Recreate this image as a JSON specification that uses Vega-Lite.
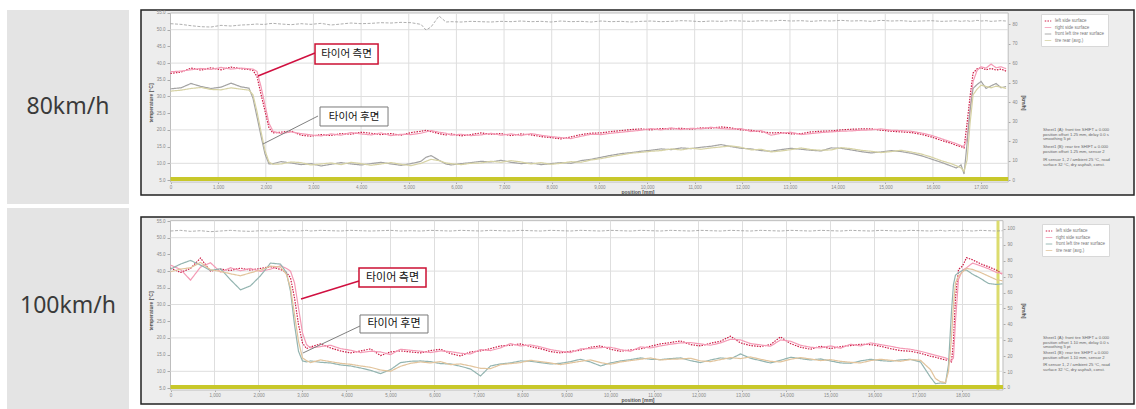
{
  "$schema": "https://vega.github.io/schema/vega-lite/v6.json",
  "background": "white",
  "padding": {"left": 7, "top": 9, "right": 3, "bottom": 0},
  "spacing": 11,
  "config": {
    "font": "Liberation Sans",
    "view": {"stroke": null},
    "axis": {"labelOverlap": false, "labelFlush": false, "domain": false, "grid": false, "tickColor": "#aaaaaa", "labelFontSize": 4.5, "labelColor": "#888888", "titleFontSize": 5, "titleFontWeight": "bold", "titleColor": "#555555"}
  },
  "datasets": {
    "p1": [
      {"x":0,"a":36.9,"b":37.4,"c":32.3,"d":31.6,"t":51.8},
      {"x":220,"a":37.3,"b":37.6,"c":32.6,"d":31.9,"t":51.6},
      {"x":430,"a":38.5,"b":38.0,"c":33.9,"d":32.4,"t":51.2},
      {"x":640,"a":37.9,"b":38.4,"c":33.0,"d":32.7,"t":50.9},
      {"x":850,"a":38.6,"b":38.1,"c":32.4,"d":32.1,"t":50.8},
      {"x":1060,"a":38.0,"b":38.7,"c":32.8,"d":32.0,"t":51.3},
      {"x":1270,"a":38.8,"b":38.2,"c":34.0,"d":32.6,"t":51.1},
      {"x":1480,"a":38.3,"b":38.5,"c":32.9,"d":32.2,"t":51.4},
      {"x":1647,"a":38.1,"b":38.3,"c":32.5,"d":31.9,"t":51.5},
      {"x":1731,"a":37.8,"b":38.2,"c":29.5,"d":30.5,"t":51.6},
      {"x":1815,"a":36.0,"b":37.5,"c":23.9,"d":25.5,"t":51.7},
      {"x":1899,"a":30.7,"b":33.0,"c":18.2,"d":19.5,"t":51.6},
      {"x":1983,"a":25.7,"b":27.5,"c":12.8,"d":13.8,"t":51.6},
      {"x":2067,"a":20.6,"b":22.0,"c":9.8,"d":10.4,"t":51.8},
      {"x":2151,"a":19.1,"b":19.6,"c":9.9,"d":9.7,"t":51.9},
      {"x":2319,"a":19.3,"b":18.9,"c":10.5,"d":9.8,"t":51.7},
      {"x":2529,"a":19.7,"b":19.4,"c":10.1,"d":10.4,"t":51.5},
      {"x":2739,"a":18.4,"b":18.9,"c":9.6,"d":10.2,"t":51.8},
      {"x":2949,"a":18.1,"b":18.5,"c":9.9,"d":9.5,"t":51.6},
      {"x":3158,"a":18.6,"b":18.2,"c":9.2,"d":9.8,"t":51.9},
      {"x":3368,"a":18.3,"b":18.8,"c":9.7,"d":10.1,"t":51.4},
      {"x":3578,"a":18.9,"b":18.4,"c":10.2,"d":9.6,"t":51.7},
      {"x":3788,"a":18.7,"b":19.2,"c":9.8,"d":10.3,"t":52.0},
      {"x":3998,"a":19.3,"b":18.8,"c":9.5,"d":9.9,"t":51.8},
      {"x":4208,"a":19.0,"b":18.5,"c":9.9,"d":9.4,"t":51.9},
      {"x":4418,"a":18.6,"b":19.1,"c":10.3,"d":9.8,"t":52.1},
      {"x":4628,"a":18.9,"b":18.3,"c":9.8,"d":10.2,"t":52.0},
      {"x":4837,"a":18.4,"b":18.7,"c":9.4,"d":9.7,"t":52.2},
      {"x":5047,"a":19.2,"b":18.6,"c":9.9,"d":9.3,"t":52.1},
      {"x":5257,"a":19.6,"b":19.0,"c":10.6,"d":10.0,"t":51.6},
      {"x":5362,"a":19.9,"b":19.4,"c":11.8,"d":10.6,"t":49.9},
      {"x":5467,"a":19.5,"b":19.8,"c":12.3,"d":11.2,"t":50.8},
      {"x":5635,"a":18.9,"b":19.3,"c":10.9,"d":10.8,"t":54.1},
      {"x":5782,"a":18.5,"b":19.0,"c":9.8,"d":10.1,"t":52.3},
      {"x":5887,"a":18.8,"b":18.4,"c":9.5,"d":9.9,"t":52.4},
      {"x":6097,"a":18.2,"b":18.7,"c":9.9,"d":9.6,"t":52.3},
      {"x":6306,"a":18.6,"b":18.3,"c":10.2,"d":10.0,"t":52.5},
      {"x":6516,"a":19.1,"b":18.5,"c":10.6,"d":10.1,"t":52.4},
      {"x":6726,"a":18.7,"b":19.0,"c":10.4,"d":10.6,"t":52.3},
      {"x":6936,"a":18.9,"b":18.4,"c":10.9,"d":10.3,"t":52.5},
      {"x":7146,"a":18.3,"b":18.8,"c":10.3,"d":10.8,"t":52.4},
      {"x":7356,"a":18.8,"b":18.3,"c":9.9,"d":10.4,"t":52.6},
      {"x":7566,"a":18.5,"b":18.9,"c":10.1,"d":9.8,"t":52.4},
      {"x":7776,"a":18.0,"b":18.4,"c":9.6,"d":10.2,"t":52.5},
      {"x":7986,"a":17.7,"b":18.0,"c":9.9,"d":9.7,"t":52.3},
      {"x":8195,"a":17.3,"b":17.7,"c":10.2,"d":10.0,"t":52.6},
      {"x":8405,"a":17.9,"b":17.4,"c":10.0,"d":10.5,"t":52.4},
      {"x":8615,"a":18.6,"b":18.1,"c":10.8,"d":10.3,"t":52.5},
      {"x":8825,"a":19.0,"b":18.7,"c":11.2,"d":11.0,"t":52.3},
      {"x":9035,"a":19.1,"b":18.6,"c":11.8,"d":11.4,"t":52.6},
      {"x":9245,"a":19.5,"b":19.0,"c":12.4,"d":12.0,"t":52.4},
      {"x":9455,"a":19.8,"b":19.3,"c":12.9,"d":12.5,"t":52.5},
      {"x":9665,"a":20.1,"b":19.6,"c":13.2,"d":13.0,"t":52.3},
      {"x":9875,"a":20.3,"b":19.9,"c":13.6,"d":13.3,"t":52.5},
      {"x":10084,"a":20.0,"b":20.4,"c":13.9,"d":13.6,"t":52.6},
      {"x":10294,"a":20.4,"b":20.0,"c":14.3,"d":13.8,"t":52.4},
      {"x":10504,"a":20.3,"b":20.6,"c":14.1,"d":14.3,"t":52.5},
      {"x":10714,"a":20.5,"b":20.1,"c":14.6,"d":14.0,"t":52.7},
      {"x":10924,"a":20.2,"b":20.5,"c":14.4,"d":14.5,"t":52.6},
      {"x":11134,"a":20.6,"b":20.3,"c":14.8,"d":14.2,"t":52.4},
      {"x":11344,"a":20.5,"b":20.8,"c":15.1,"d":14.6,"t":52.6},
      {"x":11554,"a":20.9,"b":20.4,"c":15.6,"d":14.9,"t":52.5},
      {"x":11764,"a":20.6,"b":20.2,"c":15.0,"d":15.2,"t":52.7},
      {"x":11974,"a":20.0,"b":20.4,"c":14.5,"d":14.8,"t":52.6},
      {"x":12183,"a":19.9,"b":19.5,"c":14.3,"d":14.0,"t":52.5},
      {"x":12393,"a":19.4,"b":19.8,"c":13.8,"d":14.2,"t":52.7},
      {"x":12603,"a":19.1,"b":18.4,"c":13.6,"d":13.4,"t":52.6},
      {"x":12813,"a":19.2,"b":19.0,"c":14.1,"d":13.7,"t":52.8},
      {"x":13023,"a":18.8,"b":19.3,"c":14.5,"d":14.1,"t":52.6},
      {"x":13233,"a":18.9,"b":18.6,"c":14.2,"d":14.6,"t":52.7},
      {"x":13443,"a":19.4,"b":18.9,"c":13.9,"d":14.1,"t":52.5},
      {"x":13653,"a":19.6,"b":19.2,"c":13.7,"d":13.9,"t":52.7},
      {"x":13862,"a":19.7,"b":19.4,"c":14.6,"d":14.0,"t":52.6},
      {"x":14072,"a":20.0,"b":19.6,"c":14.5,"d":14.7,"t":52.8},
      {"x":14282,"a":20.2,"b":19.7,"c":14.0,"d":14.4,"t":52.6},
      {"x":14492,"a":20.3,"b":19.9,"c":13.5,"d":13.9,"t":52.7},
      {"x":14702,"a":20.3,"b":20.0,"c":13.1,"d":13.6,"t":52.5},
      {"x":14912,"a":19.9,"b":20.3,"c":13.4,"d":13.2,"t":52.8},
      {"x":15122,"a":19.6,"b":19.9,"c":13.8,"d":13.5,"t":52.6},
      {"x":15332,"a":19.4,"b":19.8,"c":13.5,"d":13.9,"t":52.7},
      {"x":15542,"a":19.2,"b":19.6,"c":13.0,"d":13.4,"t":52.5},
      {"x":15751,"a":18.7,"b":19.1,"c":12.3,"d":12.8,"t":52.6},
      {"x":15961,"a":17.9,"b":18.4,"c":11.3,"d":11.9,"t":52.7},
      {"x":16171,"a":16.9,"b":17.4,"c":10.3,"d":10.8,"t":52.5},
      {"x":16381,"a":16.0,"b":16.4,"c":9.2,"d":9.9,"t":52.6},
      {"x":16486,"a":15.4,"b":15.9,"c":8.6,"d":9.3,"t":52.7},
      {"x":16591,"a":15.0,"b":15.3,"c":9.5,"d":8.6,"t":52.5},
      {"x":16654,"a":14.6,"b":15.0,"c":6.8,"d":7.6,"t":52.6},
      {"x":16717,"a":22.0,"b":17.5,"c":16.0,"d":11.0,"t":52.7},
      {"x":16780,"a":30.0,"b":26.0,"c":26.0,"d":22.0,"t":52.5},
      {"x":16843,"a":37.0,"b":34.5,"c":32.4,"d":30.5,"t":52.6},
      {"x":16927,"a":38.3,"b":37.8,"c":33.6,"d":32.2,"t":52.8},
      {"x":17011,"a":38.6,"b":38.9,"c":34.5,"d":33.4,"t":52.6},
      {"x":17116,"a":38.0,"b":38.5,"c":32.4,"d":33.0,"t":52.7},
      {"x":17221,"a":38.4,"b":39.7,"c":33.2,"d":32.6,"t":52.5},
      {"x":17326,"a":37.9,"b":38.6,"c":33.9,"d":33.1,"t":52.6},
      {"x":17431,"a":38.2,"b":38.9,"c":32.6,"d":32.8,"t":52.7},
      {"x":17536,"a":37.6,"b":38.3,"c":33.0,"d":32.4,"t":52.6}
    ],
    "p2": [
      {"x":0,"a":40.9,"b":41.8,"c":40.6,"d":39.8,"t":52.0},
      {"x":227,"a":39.6,"b":40.5,"c":42.1,"d":40.6,"t":52.2},
      {"x":455,"a":40.8,"b":37.3,"c":43.2,"d":41.0,"t":51.9},
      {"x":682,"a":43.9,"b":41.2,"c":41.8,"d":42.6,"t":52.1},
      {"x":909,"a":40.0,"b":42.5,"c":40.2,"d":40.4,"t":51.8},
      {"x":1136,"a":40.6,"b":39.7,"c":40.7,"d":39.9,"t":52.0},
      {"x":1364,"a":40.2,"b":41.0,"c":37.4,"d":39.2,"t":52.2},
      {"x":1591,"a":40.9,"b":40.1,"c":34.4,"d":38.6,"t":52.0},
      {"x":1818,"a":40.3,"b":40.8,"c":35.6,"d":39.5,"t":51.9},
      {"x":2045,"a":40.8,"b":39.9,"c":38.6,"d":40.3,"t":52.1},
      {"x":2273,"a":41.3,"b":40.6,"c":42.4,"d":41.5,"t":52.0},
      {"x":2500,"a":40.5,"b":41.6,"c":42.1,"d":41.2,"t":52.2},
      {"x":2636,"a":39.6,"b":40.8,"c":39.5,"d":39.0,"t":52.1},
      {"x":2727,"a":38.0,"b":40.0,"c":34.0,"d":35.0,"t":52.0},
      {"x":2818,"a":32.0,"b":36.5,"c":24.0,"d":27.0,"t":52.1},
      {"x":2909,"a":24.0,"b":29.0,"c":16.0,"d":19.0,"t":52.0},
      {"x":3000,"a":18.5,"b":21.5,"c":13.1,"d":14.0,"t":52.1},
      {"x":3091,"a":16.8,"b":18.0,"c":12.8,"d":13.2,"t":52.2},
      {"x":3182,"a":17.3,"b":17.0,"c":13.1,"d":12.6,"t":52.0},
      {"x":3409,"a":18.2,"b":17.4,"c":12.7,"d":13.4,"t":52.2},
      {"x":3636,"a":17.0,"b":17.8,"c":12.5,"d":12.9,"t":52.1},
      {"x":3864,"a":16.1,"b":16.8,"c":11.9,"d":12.4,"t":52.0},
      {"x":4091,"a":15.5,"b":16.3,"c":11.6,"d":12.1,"t":52.2},
      {"x":4318,"a":16.1,"b":15.6,"c":11.0,"d":11.6,"t":52.1},
      {"x":4545,"a":16.7,"b":16.0,"c":10.3,"d":11.2,"t":52.0},
      {"x":4773,"a":14.7,"b":15.8,"c":9.3,"d":10.4,"t":52.1},
      {"x":5000,"a":15.8,"b":15.0,"c":10.5,"d":10.0,"t":52.2},
      {"x":5227,"a":16.1,"b":16.6,"c":12.6,"d":11.5,"t":52.0},
      {"x":5455,"a":15.8,"b":16.3,"c":13.0,"d":12.4,"t":52.1},
      {"x":5682,"a":15.5,"b":16.0,"c":13.1,"d":12.8,"t":52.0},
      {"x":5909,"a":16.2,"b":15.6,"c":12.9,"d":12.5,"t":52.2},
      {"x":6136,"a":16.6,"b":16.1,"c":12.3,"d":12.9,"t":52.1},
      {"x":6364,"a":15.3,"b":15.9,"c":12.2,"d":12.0,"t":52.0},
      {"x":6591,"a":14.6,"b":15.4,"c":11.5,"d":12.2,"t":52.2},
      {"x":6818,"a":15.8,"b":15.2,"c":10.7,"d":11.6,"t":52.1},
      {"x":7045,"a":16.1,"b":16.5,"c":8.6,"d":10.9,"t":52.0},
      {"x":7273,"a":16.8,"b":16.2,"c":11.6,"d":10.8,"t":52.2},
      {"x":7500,"a":17.6,"b":17.0,"c":12.2,"d":12.0,"t":52.1},
      {"x":7727,"a":17.8,"b":18.3,"c":12.5,"d":12.3,"t":52.0},
      {"x":7955,"a":18.2,"b":17.6,"c":13.1,"d":12.6,"t":52.2},
      {"x":8182,"a":17.4,"b":17.9,"c":13.0,"d":13.3,"t":52.1},
      {"x":8409,"a":16.8,"b":17.3,"c":12.6,"d":12.9,"t":52.0},
      {"x":8636,"a":15.9,"b":16.5,"c":12.2,"d":12.5,"t":52.2},
      {"x":8864,"a":15.5,"b":16.0,"c":12.4,"d":12.0,"t":52.1},
      {"x":9091,"a":16.0,"b":15.6,"c":12.9,"d":12.5,"t":52.0},
      {"x":9318,"a":16.3,"b":16.7,"c":13.6,"d":13.0,"t":52.2},
      {"x":9545,"a":17.2,"b":16.8,"c":12.8,"d":13.4,"t":52.1},
      {"x":9773,"a":17.6,"b":17.1,"c":11.6,"d":12.6,"t":52.0},
      {"x":10000,"a":16.6,"b":17.2,"c":12.5,"d":12.1,"t":52.2},
      {"x":10227,"a":16.0,"b":16.5,"c":13.1,"d":12.8,"t":52.1},
      {"x":10455,"a":16.4,"b":16.0,"c":13.5,"d":13.2,"t":52.0},
      {"x":10682,"a":16.7,"b":17.3,"c":14.0,"d":13.6,"t":52.2},
      {"x":10909,"a":17.5,"b":17.0,"c":13.6,"d":14.0,"t":52.1},
      {"x":11136,"a":18.2,"b":17.6,"c":13.5,"d":13.4,"t":52.0},
      {"x":11364,"a":18.6,"b":18.1,"c":13.8,"d":13.6,"t":52.2},
      {"x":11591,"a":19.1,"b":18.5,"c":14.0,"d":13.7,"t":52.1},
      {"x":11818,"a":18.0,"b":18.6,"c":13.2,"d":13.9,"t":52.0},
      {"x":12045,"a":17.6,"b":18.2,"c":12.6,"d":13.1,"t":52.2},
      {"x":12273,"a":18.4,"b":17.8,"c":13.4,"d":12.9,"t":52.1},
      {"x":12500,"a":19.0,"b":18.5,"c":14.0,"d":13.5,"t":52.0},
      {"x":12727,"a":20.5,"b":19.6,"c":13.7,"d":14.1,"t":52.2},
      {"x":12955,"a":18.5,"b":19.4,"c":15.2,"d":13.8,"t":52.1},
      {"x":13182,"a":17.7,"b":18.3,"c":13.9,"d":14.3,"t":52.0},
      {"x":13409,"a":17.4,"b":17.9,"c":13.2,"d":13.6,"t":52.2},
      {"x":13636,"a":18.0,"b":17.5,"c":12.5,"d":13.0,"t":52.1},
      {"x":13864,"a":20.3,"b":19.4,"c":13.3,"d":12.8,"t":52.0},
      {"x":14091,"a":18.3,"b":19.0,"c":14.2,"d":13.6,"t":52.2},
      {"x":14318,"a":17.2,"b":17.8,"c":13.8,"d":14.1,"t":52.1},
      {"x":14545,"a":16.6,"b":17.2,"c":13.4,"d":13.7,"t":52.0},
      {"x":14773,"a":17.5,"b":17.0,"c":13.7,"d":13.2,"t":52.2},
      {"x":15000,"a":16.8,"b":17.6,"c":13.1,"d":13.5,"t":52.1},
      {"x":15227,"a":17.4,"b":16.9,"c":12.5,"d":13.0,"t":52.0},
      {"x":15455,"a":17.7,"b":18.1,"c":12.4,"d":12.7,"t":52.2},
      {"x":15682,"a":18.1,"b":17.6,"c":13.1,"d":12.5,"t":52.1},
      {"x":15909,"a":18.0,"b":18.5,"c":13.6,"d":13.2,"t":52.0},
      {"x":16136,"a":17.5,"b":18.0,"c":13.2,"d":13.6,"t":52.2},
      {"x":16364,"a":16.8,"b":17.5,"c":13.0,"d":13.3,"t":52.1},
      {"x":16591,"a":16.2,"b":16.9,"c":13.4,"d":13.0,"t":52.0},
      {"x":16818,"a":16.0,"b":16.6,"c":13.6,"d":13.5,"t":52.2},
      {"x":17045,"a":15.4,"b":16.0,"c":12.8,"d":13.3,"t":52.1},
      {"x":17273,"a":14.5,"b":15.2,"c":8.2,"d":10.5,"t":52.0},
      {"x":17386,"a":14.2,"b":14.8,"c":6.3,"d":7.8,"t":52.1},
      {"x":17500,"a":13.8,"b":14.4,"c":6.5,"d":6.9,"t":52.2},
      {"x":17614,"a":13.4,"b":14.0,"c":6.4,"d":6.6,"t":52.0},
      {"x":17682,"a":13.2,"b":13.6,"c":12.0,"d":10.0,"t":52.1},
      {"x":17750,"a":12.8,"b":13.2,"c":28.0,"d":20.0,"t":52.2},
      {"x":17795,"a":19.0,"b":14.0,"c":36.0,"d":30.0,"t":52.0},
      {"x":17841,"a":32.0,"b":25.0,"c":38.8,"d":36.5,"t":52.1},
      {"x":17909,"a":40.5,"b":37.5,"c":39.5,"d":38.5,"t":52.0},
      {"x":18000,"a":41.5,"b":40.3,"c":40.2,"d":39.7,"t":52.2},
      {"x":18091,"a":44.0,"b":41.0,"c":40.3,"d":40.8,"t":52.1},
      {"x":18227,"a":43.4,"b":42.4,"c":39.1,"d":40.5,"t":52.0},
      {"x":18409,"a":42.2,"b":41.6,"c":37.8,"d":39.6,"t":52.2},
      {"x":18591,"a":41.3,"b":40.7,"c":36.3,"d":38.5,"t":52.1},
      {"x":18773,"a":40.3,"b":39.6,"c":36.0,"d":37.4,"t":52.0},
      {"x":18909,"a":39.0,"b":39.3,"c":36.2,"d":37.1,"t":52.1}
    ],
    "gx1": [{"v":1000},{"v":2000},{"v":3000},{"v":4000},{"v":5000},{"v":6000},{"v":7000},{"v":8000},{"v":9000},{"v":10000},{"v":11000},{"v":12000},{"v":13000},{"v":14000},{"v":15000},{"v":16000},{"v":17000}],
    "gx2": [{"v":1000},{"v":2000},{"v":3000},{"v":4000},{"v":5000},{"v":6000},{"v":7000},{"v":8000},{"v":9000},{"v":10000},{"v":11000},{"v":12000},{"v":13000},{"v":14000},{"v":15000},{"v":16000},{"v":17000},{"v":18000}],
    "gy": [{"v":10},{"v":20},{"v":30},{"v":40},{"v":50}],
    "base1": [{"x":0,"g":5.3},{"x":17580,"g":5.3}],
    "base2": [{"x":0,"g":5.3},{"x":18920,"g":5.3}]
  },
  "hconcat": [
    {
      "bounds": "flush",
      "spacing": 4,
      "vconcat": [
        {
          "width": 122, "height": 194,
          "data": {"values": [{"speed": "80km/h"}]},
          "view": {"fill": "#e4e4e4", "stroke": null},
          "mark": {"type": "text", "font": "Noto Sans", "fontSize": 23, "color": "#3a3a3a"},
          "encoding": {"text": {"field": "speed"}}
        },
        {
          "width": 122, "height": 202,
          "data": {"values": [{"speed": "100km/h"}]},
          "view": {"fill": "#e4e4e4", "stroke": null},
          "mark": {"type": "text", "font": "Noto Sans", "fontSize": 23, "color": "#3a3a3a", "dy": -3},
          "encoding": {"text": {"field": "speed"}}
        }
      ]
    },
    {
      "bounds": "flush",
      "spacing": 22,
      "resolve": {"scale": {"color": "independent", "strokeDash": "independent"}, "legend": {"color": "independent", "strokeDash": "independent"}},
      "vconcat": [
        {
          "width": 993, "height": 185,
          "view": {"fill": "#ededed", "stroke": "#222222", "strokeWidth": 1.5},
          "resolve": {"scale": {"y": "independent"}, "axis": {"y": "independent"}},
          "layer": [
            {
              "layer": [
                {
                  "data": {"name": "p1"},
                  "transform": [{"fold": ["a", "b", "c", "d"], "as": ["s", "v"]}],
                  "mark": {"type": "line", "strokeWidth": 0, "opacity": 0},
                  "encoding": {
                    "x": {"field": "x", "type": "quantitative", "scale": {"domain": [-619.1, 20220], "nice": false, "zero": false},
                      "axis": {"values": [0,1000,2000,3000,4000,5000,6000,7000,8000,9000,10000,11000,12000,13000,14000,15000,16000,17000], "tickCount": 40, "labelExpr": "format(datum.value, ',')", "offset": -13, "tickSize": 1.5, "labelPadding": 0.5, "title": "position [mm]", "titlePadding": 0.5}},
                    "y": {"field": "v", "type": "quantitative", "scale": {"domain": [0.509, 55.898], "nice": false, "zero": false},
                      "axis": {"values": [5,10,15,20,25,30,35,40,45,50,55], "tickCount": 40, "labelExpr": "format(datum.value, '.1f')", "offset": -29, "tickSize": 3, "labelPadding": 2, "title": "temperature [°C]", "titlePadding": 3}},
                    "detail": {"field": "s"}
                  }
                },
                {
                  "data": {"values": [{}]},
                  "mark": {"type": "rect", "fill": "#ffffff", "stroke": "#bdbdbd", "strokeWidth": 1},
                  "encoding": {
                    "x": {"datum": 0, "type": "quantitative"},
                    "x2": {"datum": 17580},
                    "y": {"datum": 4.4, "type": "quantitative"},
                    "y2": {"datum": 55.0}
                  }
                },
                {
                  "data": {"name": "gy"},
                  "mark": {"type": "rule", "color": "#dedede", "strokeWidth": 1},
                  "encoding": {
                    "y": {"field": "v", "type": "quantitative"},
                    "x": {"datum": 0, "type": "quantitative"},
                    "x2": {"datum": 17580}
                  }
                },
                {
                  "data": {"name": "gx1"},
                  "mark": {"type": "rule", "color": "#dedede", "strokeWidth": 1},
                  "encoding": {
                    "x": {"field": "v", "type": "quantitative"},
                    "y": {"datum": 4.4, "type": "quantitative"},
                    "y2": {"datum": 55.0}
                  }
                },
                {
                  "data": {"name": "p1"},
                  "mark": {"type": "line", "color": "#9a9a9a", "strokeWidth": 0.8, "strokeDash": [3, 1.5]},
                  "encoding": {
                    "x": {"field": "x", "type": "quantitative"},
                    "y": {"field": "t", "type": "quantitative"}
                  }
                },
                {
                  "data": {"name": "base1"},
                  "mark": {"type": "line", "color": "#c8c82a", "strokeWidth": 4},
                  "encoding": {
                    "x": {"field": "x", "type": "quantitative"},
                    "y": {"field": "g", "type": "quantitative"}
                  }
                },
                {
                  "data": {"name": "p1"},
                  "transform": [{"fold": ["a", "b", "c", "d"], "as": ["s", "v"]}],
                  "mark": {"type": "line", "strokeWidth": 1.2},
                  "encoding": {
                    "x": {"field": "x", "type": "quantitative"},
                    "y": {"field": "v", "type": "quantitative"},
                    "color": {"field": "s", "type": "nominal", "scale": {"domain": ["a", "b", "c", "d"], "range": ["#cc1a44", "#f49ab5", "#a3a3a3", "#d6d2a4"]},
                      "legend": {"orient": "none", "legendX": 900, "legendY": 4, "title": null, "fillColor": "#ffffff", "strokeColor": "#d8d8d8", "padding": 3, "symbolType": "stroke", "symbolSize": 42, "symbolStrokeWidth": 1, "labelFontSize": 4.5, "labelColor": "#777777", "rowPadding": 0.5, "labelOffset": 3, "labelExpr": "datum.label == 'a' ? 'left side surface        ' : datum.label == 'b' ? 'right side surface' : datum.label == 'c' ? 'front left tire rear surface' : 'tire rear (avg.)'"}},
                    "strokeDash": {"field": "s", "type": "nominal", "scale": {"domain": ["a", "b", "c", "d"], "range": [[1.5, 1.2], [1, 0], [1, 0], [1, 0]]},
                      "legend": {"orient": "none", "legendX": 900, "legendY": 4, "title": null, "fillColor": "#ffffff", "strokeColor": "#d8d8d8", "padding": 3, "symbolType": "stroke", "symbolSize": 42, "symbolStrokeWidth": 1, "labelFontSize": 4.5, "labelColor": "#777777", "rowPadding": 0.5, "labelOffset": 3, "labelExpr": "datum.label == 'a' ? 'left side surface        ' : datum.label == 'b' ? 'right side surface' : datum.label == 'c' ? 'front left tire rear surface' : 'tire rear (avg.)'"}}
                  }
                },
                {
                  "data": {"values": [{}]},
                  "mark": {"type": "rule", "color": "#d01040", "strokeWidth": 1.5},
                  "encoding": {
                    "x": {"datum": 3033, "type": "quantitative"},
                    "x2": {"datum": 1836},
                    "y": {"datum": 43.02, "type": "quantitative"},
                    "y2": {"datum": 36.14}
                  }
                },
                {
                  "data": {"values": [{}]},
                  "mark": {"type": "rule", "color": "#808080", "strokeWidth": 1},
                  "encoding": {
                    "x": {"datum": 3096, "type": "quantitative"},
                    "x2": {"datum": 1941},
                    "y": {"datum": 24.16, "type": "quantitative"},
                    "y2": {"datum": 15.78}
                  }
                },
                {
                  "data": {"values": [{}]},
                  "mark": {"type": "rect", "fill": "#ffffff", "stroke": "#cc1133", "strokeWidth": 1.5},
                  "encoding": {
                    "x": {"datum": 3033, "type": "quantitative"},
                    "x2": {"datum": 4356},
                    "y": {"datum": 45.72, "type": "quantitative"},
                    "y2": {"datum": 39.73}
                  }
                },
                {
                  "data": {"values": [{}]},
                  "mark": {"type": "rect", "fill": "#ffffff", "stroke": "#7a7a7a", "strokeWidth": 1},
                  "encoding": {
                    "x": {"datum": 3138, "type": "quantitative"},
                    "x2": {"datum": 4565},
                    "y": {"datum": 26.86, "type": "quantitative"},
                    "y2": {"datum": 21.17}
                  }
                },
                {
                  "data": {"values": [{"label": "타이어 측면"}]},
                  "mark": {"type": "text", "font": "Noto Sans CJK KR", "fontSize": 10.5, "color": "#111111"},
                  "encoding": {
                    "text": {"field": "label"},
                    "x": {"datum": 3694, "type": "quantitative"},
                    "y": {"datum": 42.72, "type": "quantitative"}
                  }
                },
                {
                  "data": {"values": [{"label": "타이어 후면"}]},
                  "mark": {"type": "text", "font": "Noto Sans CJK KR", "fontSize": 10.5, "color": "#111111"},
                  "encoding": {
                    "text": {"field": "label"},
                    "x": {"datum": 3852, "type": "quantitative"},
                    "y": {"datum": 24.01, "type": "quantitative"}
                  }
                },
                {
                  "data": {"values": [{}]},
                  "mark": {"type": "text", "align": "left", "baseline": "top", "fontSize": 4.2, "lineHeight": 4.6, "color": "#666666",
                    "text": ["Sheet1 (A): front tire SHIFT = 0.000", "position offset 1.25 mm, delay 0.0 s", "smoothing 5 pt"]},
                  "encoding": {
                    "x": {"datum": 18310, "type": "quantitative"},
                    "y": {"datum": 20.57, "type": "quantitative"}
                  }
                },
                {
                  "data": {"values": [{}]},
                  "mark": {"type": "text", "align": "left", "baseline": "top", "fontSize": 4.2, "lineHeight": 4.6, "color": "#666666",
                    "text": ["Sheet1 (B): rear tire SHIFT = 0.000", "position offset 1.25 mm, sensor 2"]},
                  "encoding": {
                    "x": {"datum": 18310, "type": "quantitative"},
                    "y": {"datum": 15.48, "type": "quantitative"}
                  }
                },
                {
                  "data": {"values": [{}]},
                  "mark": {"type": "text", "align": "left", "baseline": "top", "fontSize": 4.2, "lineHeight": 4.6, "color": "#666666",
                    "text": ["IR sensor 1, 2 / ambient 25 °C, road", "surface 32 °C, dry asphalt, const."]},
                  "encoding": {
                    "x": {"datum": 18310, "type": "quantitative"},
                    "y": {"datum": 11.59, "type": "quantitative"}
                  }
                }
              ]
            },
            {
              "data": {"values": [{}]},
              "mark": {"type": "point", "opacity": 0},
              "encoding": {
                "y": {"datum": 0, "type": "quantitative", "scale": {"domain": [-7.69, 87.18], "nice": false, "zero": false},
                  "axis": {"orient": "right", "values": [0,10,20,30,40,50,60,70,80], "tickCount": 40, "offset": -126, "tickSize": 2, "labelPadding": 2, "title": "[km/h]", "titlePadding": 3}}
              }
            }
          ]
        },
        {
          "width": 993, "height": 187,
          "view": {"fill": "#ededed", "stroke": "#222222", "strokeWidth": 1.5},
          "resolve": {"scale": {"y": "independent"}, "axis": {"y": "independent"}},
          "layer": [
            {
              "layer": [
                {
                  "data": {"name": "p2"},
                  "transform": [{"fold": ["a", "b", "c", "d"], "as": ["s", "v"]}],
                  "mark": {"type": "line", "strokeWidth": 0, "opacity": 0},
                  "encoding": {
                    "x": {"field": "x", "type": "quantitative", "scale": {"domain": [-670.5, 21898], "nice": false, "zero": false},
                      "axis": {"values": [0,1000,2000,3000,4000,5000,6000,7000,8000,9000,10000,11000,12000,13000,14000,15000,16000,17000,18000], "tickCount": 40, "labelExpr": "format(datum.value, ',')", "offset": -14, "tickSize": 1.5, "labelPadding": 0.5, "title": "position [mm]", "titlePadding": 0.5}},
                    "y": {"field": "v", "type": "quantitative", "scale": {"domain": [0.21, 56.198], "nice": false, "zero": false},
                      "axis": {"values": [5,10,15,20,25,30,35,40,45,50,55], "tickCount": 40, "labelExpr": "format(datum.value, '.1f')", "offset": -29, "tickSize": 3, "labelPadding": 2, "title": "temperature [°C]", "titlePadding": 3}},
                    "detail": {"field": "s"}
                  }
                },
                {
                  "data": {"values": [{}]},
                  "mark": {"type": "rect", "fill": "#ffffff", "stroke": "#bdbdbd", "strokeWidth": 1},
                  "encoding": {
                    "x": {"datum": 0, "type": "quantitative"},
                    "x2": {"datum": 18920},
                    "y": {"datum": 4.4, "type": "quantitative"},
                    "y2": {"datum": 55.1}
                  }
                },
                {
                  "data": {"name": "gy"},
                  "mark": {"type": "rule", "color": "#dedede", "strokeWidth": 1},
                  "encoding": {
                    "y": {"field": "v", "type": "quantitative"},
                    "x": {"datum": 0, "type": "quantitative"},
                    "x2": {"datum": 18920}
                  }
                },
                {
                  "data": {"name": "gx2"},
                  "mark": {"type": "rule", "color": "#dedede", "strokeWidth": 1},
                  "encoding": {
                    "x": {"field": "v", "type": "quantitative"},
                    "y": {"datum": 4.4, "type": "quantitative"},
                    "y2": {"datum": 55.1}
                  }
                },
                {
                  "data": {"values": [{}]},
                  "mark": {"type": "rule", "color": "#dcdc6e", "strokeWidth": 3},
                  "encoding": {
                    "x": {"datum": 18807, "type": "quantitative"},
                    "y": {"datum": 4.4, "type": "quantitative"},
                    "y2": {"datum": 55.1}
                  }
                },
                {
                  "data": {"name": "p2"},
                  "mark": {"type": "line", "color": "#9a9a9a", "strokeWidth": 0.8, "strokeDash": [3, 1.5]},
                  "encoding": {
                    "x": {"field": "x", "type": "quantitative"},
                    "y": {"field": "t", "type": "quantitative"}
                  }
                },
                {
                  "data": {"name": "base2"},
                  "mark": {"type": "line", "color": "#c8c82a", "strokeWidth": 4},
                  "encoding": {
                    "x": {"field": "x", "type": "quantitative"},
                    "y": {"field": "g", "type": "quantitative"}
                  }
                },
                {
                  "data": {"name": "p2"},
                  "transform": [{"fold": ["a", "b", "c", "d"], "as": ["s", "v"]}],
                  "mark": {"type": "line", "strokeWidth": 1.2},
                  "encoding": {
                    "x": {"field": "x", "type": "quantitative"},
                    "y": {"field": "v", "type": "quantitative"},
                    "color": {"field": "s", "type": "nominal", "scale": {"domain": ["a", "b", "c", "d"], "range": ["#cc1a44", "#f49ab5", "#93b4b0", "#e2c49c"]},
                      "legend": {"orient": "none", "legendX": 901, "legendY": 7, "title": null, "fillColor": "#ffffff", "strokeColor": "#d8d8d8", "padding": 3, "symbolType": "stroke", "symbolSize": 42, "symbolStrokeWidth": 1, "labelFontSize": 4.5, "labelColor": "#777777", "rowPadding": 0.5, "labelOffset": 3, "labelExpr": "datum.label == 'a' ? 'left side surface        ' : datum.label == 'b' ? 'right side surface' : datum.label == 'c' ? 'front left tire rear surface' : 'tire rear (avg.)'"}},
                    "strokeDash": {"field": "s", "type": "nominal", "scale": {"domain": ["a", "b", "c", "d"], "range": [[1.5, 1.2], [1, 0], [1, 0], [1, 0]]},
                      "legend": {"orient": "none", "legendX": 901, "legendY": 7, "title": null, "fillColor": "#ffffff", "strokeColor": "#d8d8d8", "padding": 3, "symbolType": "stroke", "symbolSize": 42, "symbolStrokeWidth": 1, "labelFontSize": 4.5, "labelColor": "#777777", "rowPadding": 0.5, "labelOffset": 3, "labelExpr": "datum.label == 'a' ? 'left side surface        ' : datum.label == 'b' ? 'right side surface' : datum.label == 'c' ? 'front left tire rear surface' : 'tire rear (avg.)'"}}
                  }
                },
                {
                  "data": {"values": [{}]},
                  "mark": {"type": "rule", "color": "#d01040", "strokeWidth": 1.5},
                  "encoding": {
                    "x": {"datum": 4284, "type": "quantitative"},
                    "x2": {"datum": 2966},
                    "y": {"datum": 37.04, "type": "quantitative"},
                    "y2": {"datum": 31.65}
                  }
                },
                {
                  "data": {"values": [{}]},
                  "mark": {"type": "rule", "color": "#808080", "strokeWidth": 1},
                  "encoding": {
                    "x": {"datum": 4307, "type": "quantitative"},
                    "x2": {"datum": 3011},
                    "y": {"datum": 23.56, "type": "quantitative"},
                    "y2": {"datum": 15.48}
                  }
                },
                {
                  "data": {"values": [{}]},
                  "mark": {"type": "rect", "fill": "#ffffff", "stroke": "#cc1133", "strokeWidth": 1.5},
                  "encoding": {
                    "x": {"datum": 4284, "type": "quantitative"},
                    "x2": {"datum": 5807},
                    "y": {"datum": 40.93, "type": "quantitative"},
                    "y2": {"datum": 35.24}
                  }
                },
                {
                  "data": {"values": [{}]},
                  "mark": {"type": "rect", "fill": "#ffffff", "stroke": "#7a7a7a", "strokeWidth": 1},
                  "encoding": {
                    "x": {"datum": 4307, "type": "quantitative"},
                    "x2": {"datum": 5852},
                    "y": {"datum": 26.86, "type": "quantitative"},
                    "y2": {"datum": 21.47}
                  }
                },
                {
                  "data": {"values": [{"label": "타이어 측면"}]},
                  "mark": {"type": "text", "font": "Noto Sans CJK KR", "fontSize": 11, "color": "#111111"},
                  "encoding": {
                    "text": {"field": "label"},
                    "x": {"datum": 5045, "type": "quantitative"},
                    "y": {"datum": 38.08, "type": "quantitative"}
                  }
                },
                {
                  "data": {"values": [{"label": "타이어 후면"}]},
                  "mark": {"type": "text", "font": "Noto Sans CJK KR", "fontSize": 11, "color": "#111111"},
                  "encoding": {
                    "text": {"field": "label"},
                    "x": {"datum": 5080, "type": "quantitative"},
                    "y": {"datum": 24.16, "type": "quantitative"}
                  }
                },
                {
                  "data": {"values": [{}]},
                  "mark": {"type": "text", "align": "left", "baseline": "top", "fontSize": 4.2, "lineHeight": 4.6, "color": "#666666",
                    "text": ["Sheet1 (A): front tire SHIFT = 0.000", "position offset 1.10 mm, delay 0.0 s", "smoothing 5 pt"]},
                  "encoding": {
                    "x": {"datum": 19830, "type": "quantitative"},
                    "y": {"datum": 20.57, "type": "quantitative"}
                  }
                },
                {
                  "data": {"values": [{}]},
                  "mark": {"type": "text", "align": "left", "baseline": "top", "fontSize": 4.2, "lineHeight": 4.6, "color": "#666666",
                    "text": ["Sheet1 (B): rear tire SHIFT = 0.000", "position offset 1.10 mm, sensor 2"]},
                  "encoding": {
                    "x": {"datum": 19830, "type": "quantitative"},
                    "y": {"datum": 16.08, "type": "quantitative"}
                  }
                },
                {
                  "data": {"values": [{}]},
                  "mark": {"type": "text", "align": "left", "baseline": "top", "fontSize": 4.2, "lineHeight": 4.6, "color": "#666666",
                    "text": ["IR sensor 1, 2 / ambient 25 °C, road", "surface 32 °C, dry asphalt, const."]},
                  "encoding": {
                    "x": {"datum": 19830, "type": "quantitative"},
                    "y": {"datum": 12.49, "type": "quantitative"}
                  }
                }
              ]
            },
            {
              "data": {"values": [{}]},
              "mark": {"type": "point", "opacity": 0},
              "encoding": {
                "y": {"datum": 0, "type": "quantitative", "scale": {"domain": [-10.06, 107.5], "nice": false, "zero": false},
                  "axis": {"orient": "right", "values": [0,10,20,30,40,50,60,70,80,90,100], "tickCount": 40, "offset": -131, "tickSize": 2, "labelPadding": 2, "title": "[km/h]", "titlePadding": 6}}
              }
            }
          ]
        }
      ]
    }
  ]
}
